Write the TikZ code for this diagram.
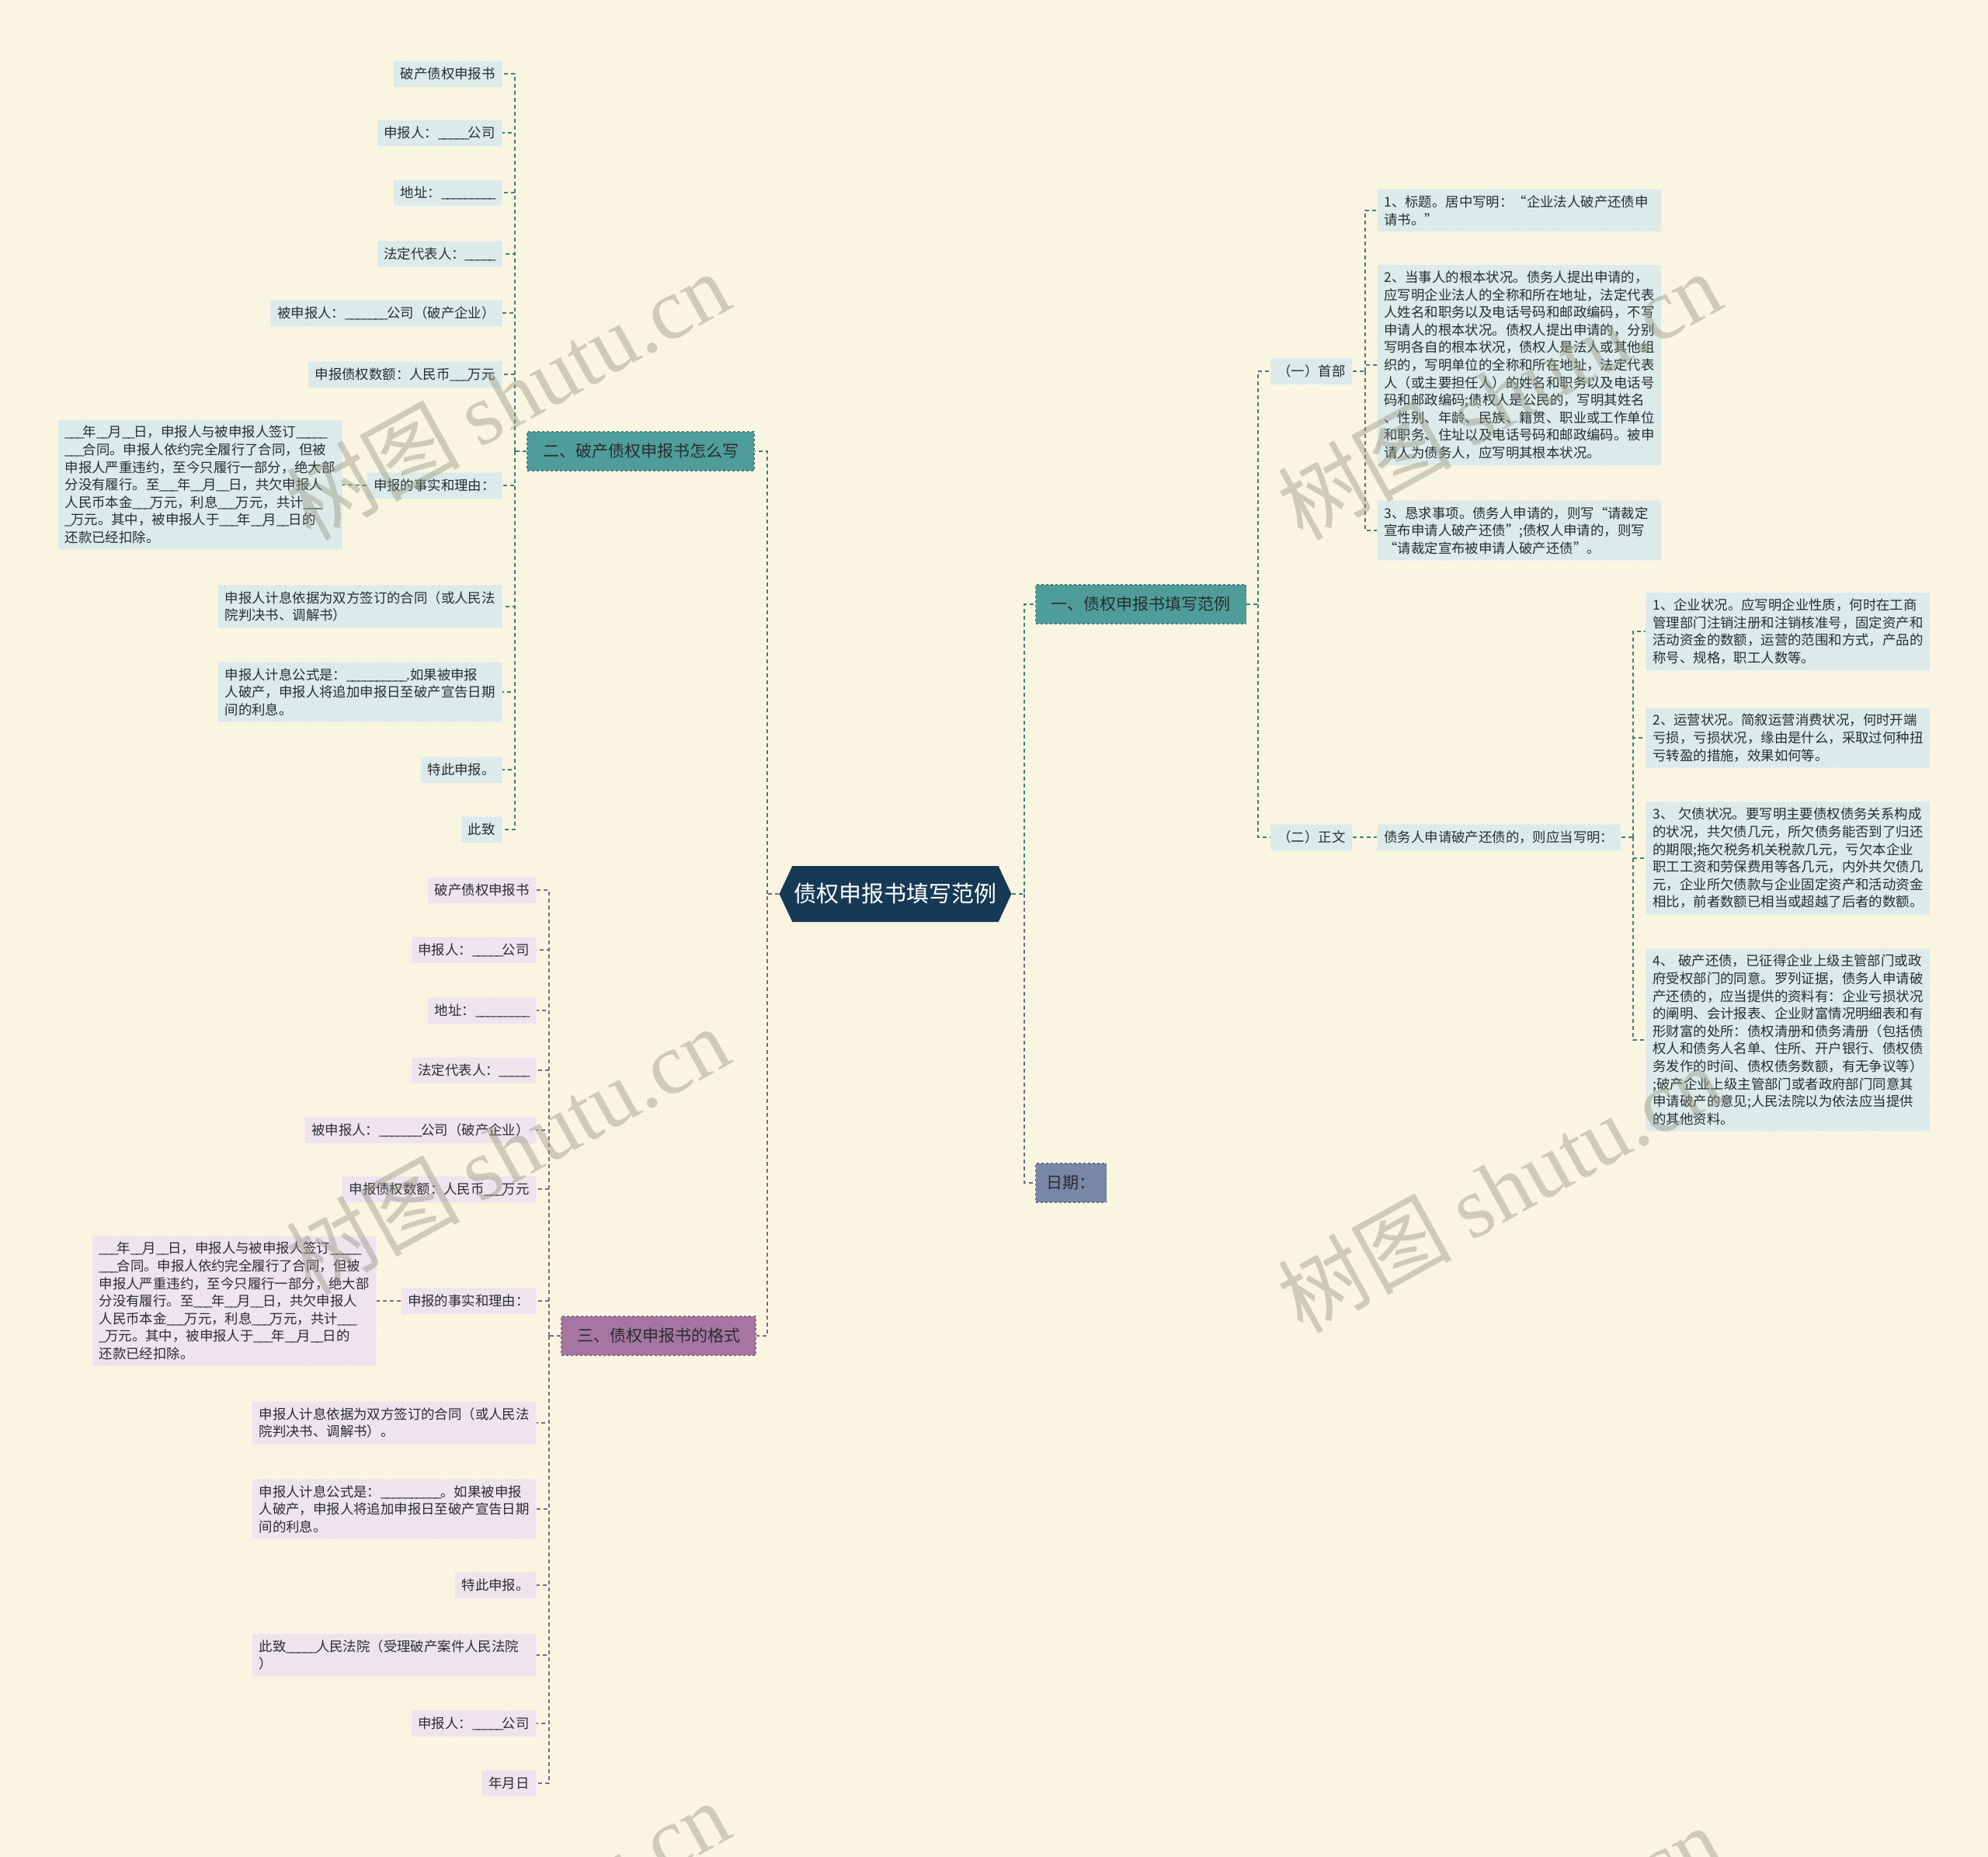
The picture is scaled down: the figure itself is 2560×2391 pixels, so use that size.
\documentclass[tikz,border=0pt]{standalone}
\usepackage{xcolor}
\usepackage{fontspec}
\setmainfont{Noto Sans CJK SC}
\newfontfamily\wmfont{Liberation Serif}
\usepackage{tikz}
\usetikzlibrary{
  positioning,
  shapes.symbols
}
\definecolor{bgcream}{RGB}{250, 245, 224}
\definecolor{rootblue}{RGB}{22, 58, 86}
\definecolor{tealbox}{RGB}{79, 157, 154}
\definecolor{tealdark}{RGB}{60, 128, 125}
\definecolor{purpbox}{RGB}{166, 117, 162}
\definecolor{purpdark}{RGB}{140, 98, 138}
\definecolor{datebox}{RGB}{122, 134, 166}
\definecolor{datedark}{RGB}{98, 110, 142}
\definecolor{leafblue}{RGB}{220, 234, 234}
\definecolor{leafpurp}{RGB}{237, 228, 238}
\definecolor{darktext}{RGB}{40, 45, 48}
\definecolor{wmgray}{RGB}{150, 150, 131}
\tikzset{
  rootnode/.style={
    signal, signal to=west and east, signal pointer angle=130,
    fill=rootblue, text=white,
    minimum width=299pt, minimum height=72pt, inner sep=0pt,
    font=\fontsize{29}{34}\selectfont
  },
  tealmain/.style={
    draw=tealdark, dashed, line width=1.2pt, fill=tealbox,
    text=darktext, minimum height=50pt, inner xsep=20pt,
    font=\fontsize{21}{26}\selectfont
  },
  purpmain/.style={tealmain, draw=purpdark, fill=purpbox},
  datemain/.style={tealmain, draw=datedark, fill=datebox, inner xsep=14pt},
  leafbox/.style={
    draw=white!55!leafblue, dashed, line width=0.8pt, fill=leafblue,
    text=darktext, inner xsep=9pt, inner ysep=8pt,
    minimum height=34pt, align=left,
    font=\fontsize{17.4}{22.6}\selectfont
  },
  pleafbox/.style={leafbox, draw=white!55!leafpurp, fill=leafpurp},
  widebox/.style={text width=348pt},
  teallink/.style={draw=tealdark, line width=1.6pt, dash pattern=on 5pt off 4pt},
  purplink/.style={teallink, draw=purpdark},
  datelink/.style={teallink, draw=datedark},
  watermark/.style={rotate=29, text=wmgray, text opacity=0.44,
    font=\fontsize{112}{112}\selectfont}
}
% one blank stroke, a little narrower than the font's underscore
\newcommand{\bk}{\_\kern-2pt}

\begin{document}
\begin{tikzpicture}[x=1pt, y=-1pt]

\fill[bgcream] (0,0) rectangle (2560,2391);
\useasboundingbox (0,0) rectangle (2560,2391);

% root (centro en x=1153)
\node[rootnode] (root) at (1153,1151) {债权申报书填写范例};
\coordinate (rsR) at (1319,1151);
\coordinate (rsL) at (988,1151);

% ramas principales
\node[tealmain] (fanli) at (1469,778) {一、债权申报书填写范例};
\node[datemain] (riqi) at (1379,1523) {日期：};
\node[tealmain] (zenme) at (825,581) {二、破产债权申报书怎么写};
\node[purpmain] (geshi) at (848,1720) {三、债权申报书的格式};

\draw[teallink] (root.east) -- (rsR) |- (fanli.west);
\draw[datelink] (rsR) |- (riqi.west);
\draw[teallink] (rsL) |- (zenme.east);
\draw[purplink] (root.west) -- (rsL) |- (geshi.east);

% fanli -> shoubu / zhengwen
\coordinate (fs) at (1620,778);
\node[leafbox, anchor=west] (shoubu) at (1636,478) {（一）首部};
\node[leafbox, anchor=west] (zhengwen) at (1636,1078) {（二）正文};
\draw[teallink] (fanli.east) -- (fs) |- (shoubu.west);
\draw[teallink] (fs) |- (zhengwen.west);

% shoubu (x=1773)
\coordinate (ss) at (1758,478);
\node[leafbox, widebox, anchor=west] (s1) at (1773,271) {1、标题。居中写明：“企业法人破产还债申\\请书。”};
\node[leafbox, widebox, anchor=west] (s2) at (1773,470) {2、当事人的根本状况。债务人提出申请的，\\应写明企业法人的全称和所在地址，法定代表\\人姓名和职务以及电话号码和邮政编码，不写\\申请人的根本状况。债权人提出申请的，分别\\写明各自的根本状况，债权人是法人或其他组\\织的，写明单位的全称和所在地址，法定代表\\人（或主要担任人）的姓名和职务以及电话号\\码和邮政编码;债权人是公民的，写明其姓名\\、性别、年龄、民族、籍贯、职业或工作单位\\和职务、住址以及电话号码和邮政编码。被申\\请人为债务人，应写明其根本状况。};
\node[leafbox, widebox, anchor=west] (s3) at (1773,683) {3、恳求事项。债务人申请的，则写“请裁定\\宣布申请人破产还债”;债权人申请的，则写\\“请裁定宣布被申请人破产还债”。};
\draw[teallink] (shoubu.east) -- (ss);
\foreach \n in {s1,s2,s3}
  \draw[teallink] (ss) |- (\n.west);

% zhengwen (x=2119)
\node[leafbox, anchor=west] (xieming) at (1773,1078) {债务人申请破产还债的，则应当写明：};
\draw[teallink] (zhengwen.east) -- (xieming.west);
\coordinate (ws) at (2103,1078);
\node[leafbox, widebox, anchor=west] (w1) at (2119,813) {1、企业状况。应写明企业性质，何时在工商\\管理部门注销注册和注销核准号，固定资产和\\活动资金的数额，运营的范围和方式，产品的\\称号、规格，职工人数等。};
\node[leafbox, widebox, anchor=west] (w2) at (2119,950) {2、运营状况。简叙运营消费状况，何时开端\\亏损，亏损状况，缘由是什么，采取过何种扭\\亏转盈的措施，效果如何等。};
\node[leafbox, widebox, anchor=west] (w3) at (2119,1105) {3、 欠债状况。要写明主要债权债务关系构成\\的状况，共欠债几元，所欠债务能否到了归还\\的期限;拖欠税务机关税款几元，亏欠本企业\\职工工资和劳保费用等各几元，内外共欠债几\\元，企业所欠债款与企业固定资产和活动资金\\相比，前者数额已相当或超越了后者的数额。};
\node[leafbox, widebox, anchor=west] (w4) at (2119,1339) {4、 破产还债，已征得企业上级主管部门或政\\府受权部门的同意。罗列证据，债务人申请破\\产还债的，应当提供的资料有：企业亏损状况\\的阐明、会计报表、企业财富情况明细表和有\\形财富的处所：债权清册和债务清册（包括债\\权人和债务人名单、住所、开户银行、债权债\\务发作的时间、债权债务数额，有无争议等）\\;破产企业上级主管部门或者政府部门同意其\\申请破产的意见;人民法院以为依法应当提供\\的其他资料。};
\draw[teallink] (xieming.east) -- (ws);
\foreach \n in {w1,w2,w3,w4}
  \draw[teallink] (ws) |- (\n.west);

% zenme (hojas con borde derecho en x=647)
\coordinate (zs) at (663,581);
\node[leafbox, anchor=east] (z1) at (647,95) {破产债权申报书};
\node[leafbox, anchor=east] (z2) at (647,171) {申报人：\bk\bk\bk\bk\bk 公司};
\node[leafbox, anchor=east] (z3) at (647,248) {地址：\bk\bk\bk\bk\bk\bk\bk\bk\bk};
\node[leafbox, anchor=east] (z4) at (647,327) {法定代表人：\bk\bk\bk\bk\bk};
\node[leafbox, anchor=east] (z5) at (647,403) {被申报人：\bk\bk\bk\bk\bk\bk\bk 公司（破产企业）};
\node[leafbox, anchor=east] (z6) at (647,482) {申报债权数额：人民币\bk\bk\bk 万元};
\node[leafbox, anchor=east] (z7) at (647,625) {申报的事实和理由：};
\node[leafbox, widebox, anchor=east] (z7a) at (441,624) {\bk\bk\bk 年\bk\bk 月\bk\bk 日，申报人与被申报人签订\bk\bk\bk\bk\bk\\\bk\bk\bk 合同。申报人依约完全履行了合同，但被\\申报人严重违约，至今只履行一部分，绝大部\\分没有履行。至\bk\bk\bk 年\bk\bk 月\bk\bk 日，共欠申报人\\人民币本金\bk\bk\bk 万元，利息\bk\bk\bk 万元，共计\bk\bk\bk\\\bk 万元。其中，被申报人于\bk\bk\bk 年\bk\bk 月\bk\bk 日的\\还款已经扣除。};
\node[leafbox, widebox, anchor=east] (z8) at (647,781) {申报人计息依据为双方签订的合同（或人民法\\院判决书、调解书）};
\node[leafbox, widebox, anchor=east] (z9) at (647,891) {申报人计息公式是：\bk\bk\bk\bk\bk\bk\bk\bk\bk\bk .如果被申报\\人破产，申报人将追加申报日至破产宣告日期\\间的利息。};
\node[leafbox, anchor=east] (z10) at (647,991) {特此申报。};
\node[leafbox, anchor=east] (z11) at (647,1068) {此致};
\draw[teallink] (zenme.west) -- (zs);
\foreach \n in {z1,z2,z3,z4,z5,z6,z7,z8,z9,z10,z11}
  \draw[teallink] (zs) |- (\n.east);
\draw[teallink] (z7.west) -- (z7a.east);

% geshi (hojas con borde derecho en x=691)
\coordinate (gs) at (707,1720);
\node[pleafbox, anchor=east] (g1) at (691,1146) {破产债权申报书};
\node[pleafbox, anchor=east] (g2) at (691,1223) {申报人：\bk\bk\bk\bk\bk 公司};
\node[pleafbox, anchor=east] (g3) at (691,1301) {地址：\bk\bk\bk\bk\bk\bk\bk\bk\bk};
\node[pleafbox, anchor=east] (g4) at (691,1378) {法定代表人：\bk\bk\bk\bk\bk};
\node[pleafbox, anchor=east] (g5) at (691,1455) {被申报人：\bk\bk\bk\bk\bk\bk\bk 公司（破产企业）};
\node[pleafbox, anchor=east] (g6) at (691,1531) {申报债权数额：人民币\bk\bk\bk 万元};
\node[pleafbox, anchor=east] (g7) at (691,1675) {申报的事实和理由：};
\node[pleafbox, widebox, anchor=east] (g7a) at (485,1675) {\bk\bk\bk 年\bk\bk 月\bk\bk 日，申报人与被申报人签订\bk\bk\bk\bk\bk\\\bk\bk\bk 合同。申报人依约完全履行了合同，但被\\申报人严重违约，至今只履行一部分，绝大部\\分没有履行。至\bk\bk\bk 年\bk\bk 月\bk\bk 日，共欠申报人\\人民币本金\bk\bk\bk 万元，利息\bk\bk\bk 万元，共计\bk\bk\bk\\\bk 万元。其中，被申报人于\bk\bk\bk 年\bk\bk 月\bk\bk 日的\\还款已经扣除。};
\node[pleafbox, widebox, anchor=east] (g8) at (691,1832) {申报人计息依据为双方签订的合同（或人民法\\院判决书、调解书）。};
\node[pleafbox, widebox, anchor=east] (g9) at (691,1943) {申报人计息公式是：\bk\bk\bk\bk\bk\bk\bk\bk\bk\bk 。如果被申报\\人破产，申报人将追加申报日至破产宣告日期\\间的利息。};
\node[pleafbox, anchor=east] (g10) at (691,2041) {特此申报。};
\node[pleafbox, widebox, anchor=east] (g11) at (691,2131) {此致\bk\bk\bk\bk\bk 人民法院（受理破产案件人民法院\\）};
\node[pleafbox, anchor=east] (g12) at (691,2219) {申报人：\bk\bk\bk\bk\bk 公司};
\node[pleafbox, anchor=east] (g13) at (691,2296) {年月日};
\draw[purplink] (geshi.west) -- (gs);
\foreach \n in {g1,g2,g3,g4,g5,g6,g7,g8,g9,g10,g11,g12,g13}
  \draw[purplink] (gs) |- (\n.east);
\draw[purplink] (g7.west) -- (g7a.east);

% marcas de agua
\begin{scope}
  \clip (0,0) rectangle (2560,2391);
  \foreach \wx/\wy [count=\i] in {653/509, 1930/509, 653/1481, 1930/1530, 653/2478, 1930/2510}
    \node[watermark] (wm\i) at (\wx,\wy) {树图 {\wmfont shutu.cn}};
\end{scope}

\end{tikzpicture}
\end{document}
